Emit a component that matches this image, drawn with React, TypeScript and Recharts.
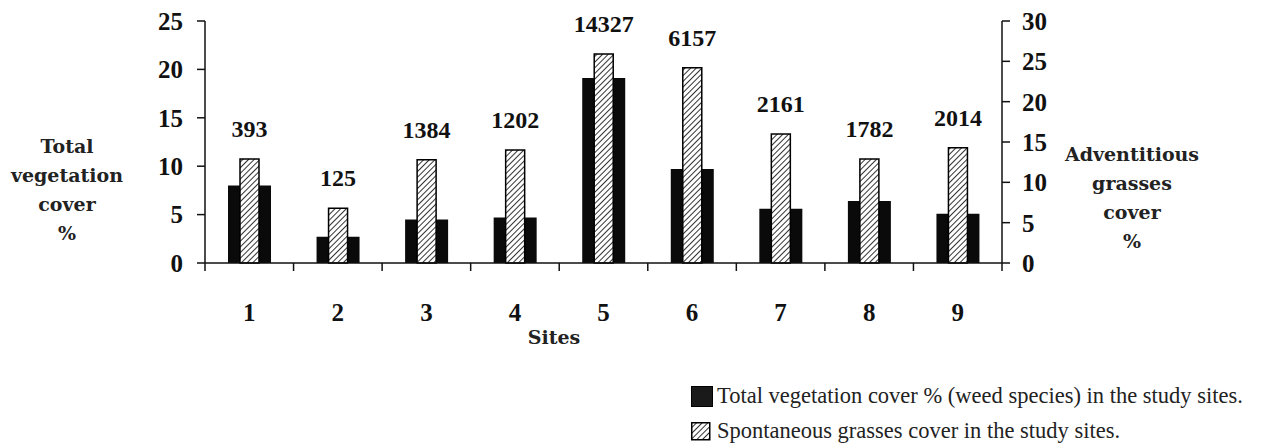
import React from 'react';
import { ComposedChart, Bar, XAxis, YAxis, LabelList } from 'recharts';

const sites = ['1', '2', '3', '4', '5', '6', '7', '8', '9'];
const siteIndex = [0.5, 1.5, 2.5, 3.5, 4.5, 5.5, 6.5, 7.5, 8.5];
const totalCover = [8.0, 2.7, 4.5, 4.7, 19.1, 9.7, 5.6, 6.4, 5.1];
const grassCover = [12.9, 6.8, 12.8, 14.0, 25.9, 24.2, 16.0, 12.9, 14.3];
const weedCounts = [393, 125, 1384, 1202, 14327, 6157, 2161, 1782, 2014];
const leftTicks = [0, 5, 10, 15, 20, 25];
const rightTicks = [0, 5, 10, 15, 20, 25, 30];
const siteEdges = [0, 1, 2, 3, 4, 5, 6, 7, 8, 9];

const data = sites.map((site, i) => ({
  site,
  pos: siteIndex[i],
  total: totalCover[i],
  grass: grassCover[i],
  count: weedCounts[i],
}));

const serif = '"Liberation Serif", "Times New Roman", serif';
const bookSerif = '"DejaVu Serif", serif';
const tickFont = { fill: '#111', fontSize: 25, fontWeight: 'bold', fontFamily: serif };

const titleStyle: React.CSSProperties = {
  position: 'absolute',
  width: 180,
  textAlign: 'center',
  fontFamily: bookSerif,
  fontWeight: 'bold',
  fontSize: 19,
  lineHeight: '29px',
  color: '#222',
};

export default function App() {
  return (
    <div style={{ position: 'absolute', left: 0, top: 0, width: 1261, height: 446, background: '#fff' }}>
      <ComposedChart
        width={1261}
        height={446}
        data={data}
        margin={{ top: 21, left: 165, right: 219, bottom: 181 }}
      >
        <defs>
          <pattern id="hatch" patternUnits="userSpaceOnUse" width="4" height="4" patternTransform="rotate(45)">
            <rect width="4" height="4" fill="#fff" />
            <line x1="0" y1="0" x2="0" y2="4" stroke="#333" strokeWidth="2" />
          </pattern>
        </defs>
        <XAxis
          xAxisId="edges"
          type="number"
          dataKey="pos"
          domain={[0, 9]}
          allowDataOverflow
          ticks={siteEdges}
          tickFormatter={() => ''}
          tickSize={8}
          height={1}
          stroke="#111"
          strokeWidth={1.5}
        />
        <XAxis xAxisId="hatch" dataKey="site" hide height={1} />
        <XAxis
          xAxisId="sites"
          dataKey="site"
          axisLine={false}
          tickLine={false}
          tickSize={0}
          tickMargin={38}
          height={1}
          tick={tickFont}
        />
        <YAxis
          yAxisId="l"
          domain={[0, 25]}
          ticks={leftTicks}
          width={40}
          tickSize={8}
          tickMargin={14}
          stroke="#111"
          strokeWidth={1.5}
          tick={tickFont}
        />
        <YAxis
          yAxisId="r"
          orientation="right"
          domain={[0, 30]}
          ticks={rightTicks}
          width={40}
          tickSize={8}
          tickMargin={12}
          stroke="#111"
          strokeWidth={1.5}
          tick={tickFont}
        />
        <Bar xAxisId="sites" yAxisId="l" dataKey="total" barSize={43} fill="#0a0a0a" isAnimationActive={false} />
        <Bar
          xAxisId="hatch"
          yAxisId="r"
          dataKey="grass"
          barSize={19}
          fill="url(#hatch)"
          stroke="#000"
          strokeWidth={1.5}
          isAnimationActive={false}
        >
          <LabelList
            dataKey="count"
            position="top"
            offset={22}
            style={{ fill: '#111', fontSize: 24, fontWeight: 'bold', fontFamily: serif }}
          />
        </Bar>
      </ComposedChart>

      <div style={{ ...titleStyle, left: 67 - 90, top: 132 }}>
        Total
        <br />
        vegetation
        <br />
        cover
        <br />%
      </div>
      <div style={{ ...titleStyle, left: 1132 - 90, top: 140 }}>
        Adventitious
        <br />
        grasses
        <br />
        cover
        <br />%
      </div>
      <div
        style={{
          position: 'absolute',
          left: 504,
          top: 323,
          width: 100,
          textAlign: 'center',
          fontFamily: bookSerif,
          fontWeight: 'bold',
          fontSize: 19,
          lineHeight: '28px',
          color: '#222',
        }}
      >
        Sites
      </div>

      <div style={{ position: 'absolute', left: 691, top: 383, fontFamily: serif, fontSize: 22.5, color: '#222' }}>
        <div style={{ display: 'flex', alignItems: 'center', height: 26 }}>
          <svg width={22} height={21} style={{ marginRight: 4 }}>
            <rect x={0.5} y={0.5} width={21} height={20} fill="#1a1a1a" stroke="#000" />
          </svg>
          <span>Total vegetation cover % (weed species) in the study sites.</span>
        </div>
        <div style={{ display: 'flex', alignItems: 'center', height: 26, marginTop: 9 }}>
          <svg width={22} height={19} style={{ marginRight: 4 }}>
            <rect x={0.75} y={0.75} width={18} height={17} fill="url(#hatch)" stroke="#000" strokeWidth={1.5} />
          </svg>
          <span>Spontaneous grasses cover in the study sites.</span>
        </div>
      </div>
    </div>
  );
}
